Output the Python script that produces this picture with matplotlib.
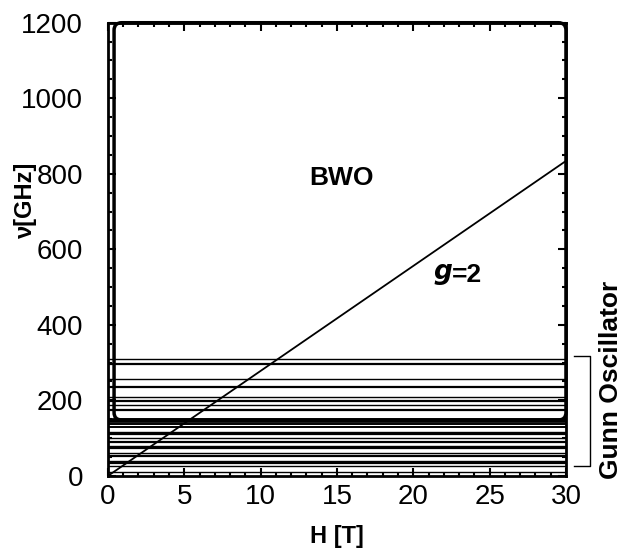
import matplotlib
matplotlib.use("Agg")
import matplotlib.pyplot as plt
import numpy as np
from matplotlib.patches import FancyBboxPatch
from matplotlib.ticker import MultipleLocator

plt.rcParams['font.family'] = ['Liberation Sans', 'DejaVu Sans']

# Gunn oscillator frequencies (GHz)
gunn_freq = [310, 296, 257, 235, 209, 198, 188, 175, 150, 146, 137, 129,
             117, 110, 99, 91, 79, 73, 60, 53, 40, 34, 25, 11]
gunn_lw = [1.0, 1.6, 1.0, 1.6, 1.0, 1.6, 1.0, 1.6, 2.0, 2.0, 1.4, 1.4,
           1.0, 1.6, 1.0, 1.6, 1.0, 1.6, 1.0, 1.6, 1.0, 1.6, 1.0, 1.0]

# BWO range
bwo_h = (0.4, 30.0)
bwo_f = (148, 1200)

# g=2 resonance line
h_line = [0, 30]
g_slope = 27.8  # GHz/T

fig = plt.figure(figsize=(6.24, 5.54), dpi=100)
ax = fig.add_axes([0.173, 0.141, 0.734, 0.818])
ax.set_xlim(0, 30)
ax.set_ylim(0, 1200)

for f, lw in zip(gunn_freq, gunn_lw):
    ax.axhline(f, color='black', lw=lw)

ax.plot(h_line, [g_slope * h for h in h_line], color='black', lw=1.3)

box = FancyBboxPatch((bwo_h[0], bwo_f[0]), bwo_h[1] - bwo_h[0], bwo_f[1] - bwo_f[0],
                     boxstyle="round,pad=0,rounding_size=0.5", mutation_aspect=40,
                     fill=False, edgecolor='black', lw=2.5, clip_on=False)
ax.add_patch(box)

ax.text(15.3, 790, "BWO", fontsize=19, fontweight='bold', ha='center', va='center')
ax.text(22.6, 532, r"$\boldsymbol{g}$", fontsize=19, ha='right', va='center')
ax.text(22.5, 532, "=2", fontsize=19, fontweight='bold', ha='left', va='center')

# bracket for Gunn oscillator
bx = [30.5, 31.6, 31.6, 30.5]
by = [318, 318, 26, 26]
ax.plot(bx, by, color='black', lw=1.0, clip_on=False)
fig.text(0.979, 0.314, "Gunn Oscillator", rotation=90, fontsize=19, fontweight='bold',
         ha='center', va='center')

ax.xaxis.set_major_locator(MultipleLocator(5))
ax.xaxis.set_minor_locator(MultipleLocator(1))
ax.yaxis.set_major_locator(MultipleLocator(200))
ax.yaxis.set_minor_locator(MultipleLocator(50))
ax.tick_params(which='both', direction='in', top=True, right=True, labelsize=20)
ax.tick_params(axis='x', which='major', pad=6)
ax.tick_params(axis='y', which='major', pad=18)
ax.tick_params(which='major', length=6, width=1.5)
ax.tick_params(which='minor', length=3, width=1.5)
for s in ax.spines.values():
    s.set_linewidth(2)

ax.set_xlabel("H [T]", fontsize=17, fontweight='bold', labelpad=11)
fig.text(0.04, 0.64, "ν[GHz]", rotation=90, fontsize=17, fontweight='bold',
         ha='center', va='center')

fig.savefig("out.png", dpi=100)
